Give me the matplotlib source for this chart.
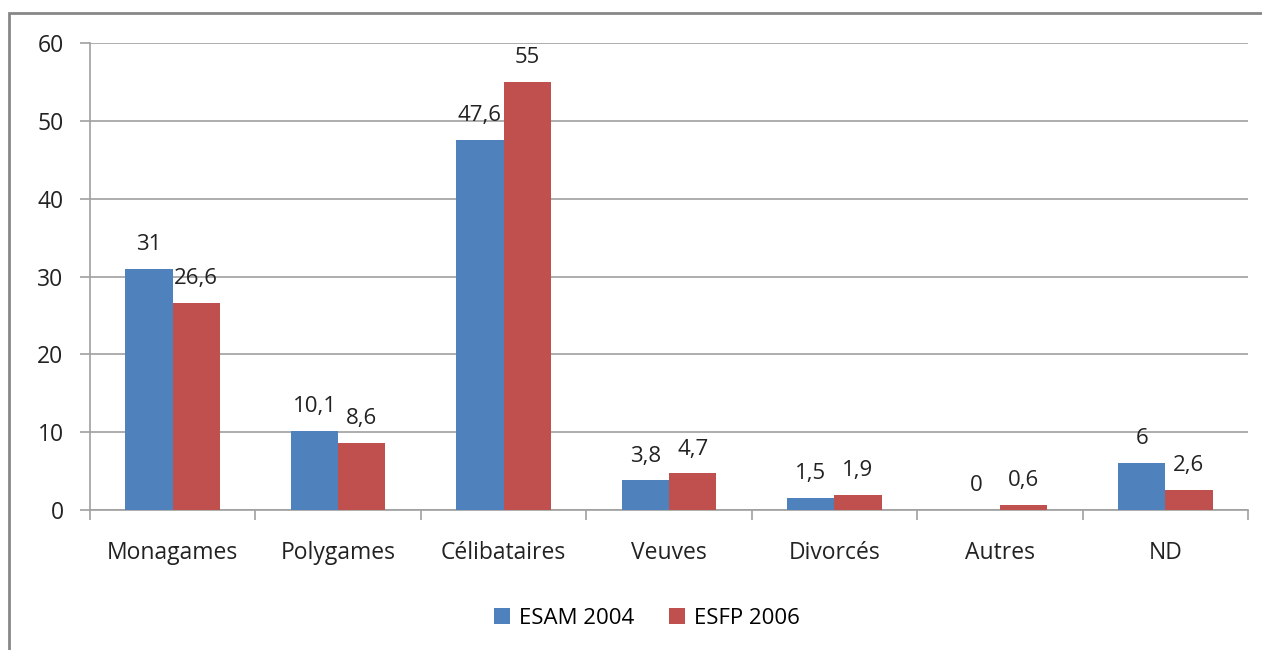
import numpy as np
import matplotlib.pyplot as plt
from matplotlib.patches import Rectangle

categories = ["Monagames", "Polygames", "Célibataires", "Veuves", "Divorcés", "Autres", "ND"]
esam_2004 = [31, 10.1, 47.6, 3.8, 1.5, 0, 6]
esfp_2006 = [26.6, 8.6, 55, 4.7, 1.9, 0.6, 2.6]
series_names = ["ESAM 2004", "ESFP 2006"]

blue = "#4f81bd"
red = "#c0504d"
grey = "#a0a0a0"

plt.rcParams["font.family"] = ["Open Sans", "DejaVu Sans"]

fig = plt.figure(figsize=(12.62, 6.5), dpi=100)
ax = fig.add_axes([90 / 1262, 1 - 510 / 650, (1248 - 90) / 1262, (510 - 43) / 650])

# outer chart frame
fig.patches.append(Rectangle((9 / 1262, -0.1), 1.2, 1 - 13 / 650 + 0.1,
                             transform=fig.transFigure, fill=False,
                             edgecolor="#878787", linewidth=2))

x = np.arange(len(categories))
w = 1 / 3.5
b1 = ax.bar(x - w / 2, esam_2004, w, color=blue, label=series_names[0], zorder=3)
b2 = ax.bar(x + w / 2, esfp_2006, w, color=red, label=series_names[1], zorder=3)


def fmt(v):
    return ("%g" % v).replace(".", ",")


for bars, vals in ((b1, esam_2004), (b2, esfp_2006)):
    for r, v in zip(bars, vals):
        ax.annotate(fmt(v), (r.get_x() + r.get_width() / 2, v),
                    xytext=(0, 10), textcoords="offset points",
                    ha="center", va="bottom", fontsize=16, color="#222222")

ax.set_xlim(-0.5, len(categories) - 0.5)
ax.set_ylim(0, 60)
ax.set_yticks(range(0, 61, 10))
ax.yaxis.grid(True, color=grey, linewidth=1.2, zorder=0)
ax.set_axisbelow(True)

ax.set_xticks(x)
ax.set_xticklabels(categories)
ax.tick_params(axis="x", length=0, pad=22, labelsize=16.5, labelcolor="#222222")
ax.set_xticks(np.arange(-0.5, len(categories)), minor=True)
ax.tick_params(axis="x", which="minor", length=7, color=grey, width=1.2)
ax.tick_params(axis="y", length=7, color=grey, width=1.2, pad=12,
               labelsize=16.5, labelcolor="#222222")

for s in ("top", "right"):
    ax.spines[s].set_visible(False)
for s in ("left", "bottom"):
    ax.spines[s].set_color(grey)
    ax.spines[s].set_linewidth(1.2)

fig.legend(handles=[b1, b2], loc="center", bbox_to_anchor=(647 / 1262, 1 - 618 / 650),
           ncol=2, frameon=False, fontsize=16, handlelength=0.7, handleheight=0.7,
           handletextpad=0.4, columnspacing=1.6)

fig.savefig("out.png", dpi=100)
